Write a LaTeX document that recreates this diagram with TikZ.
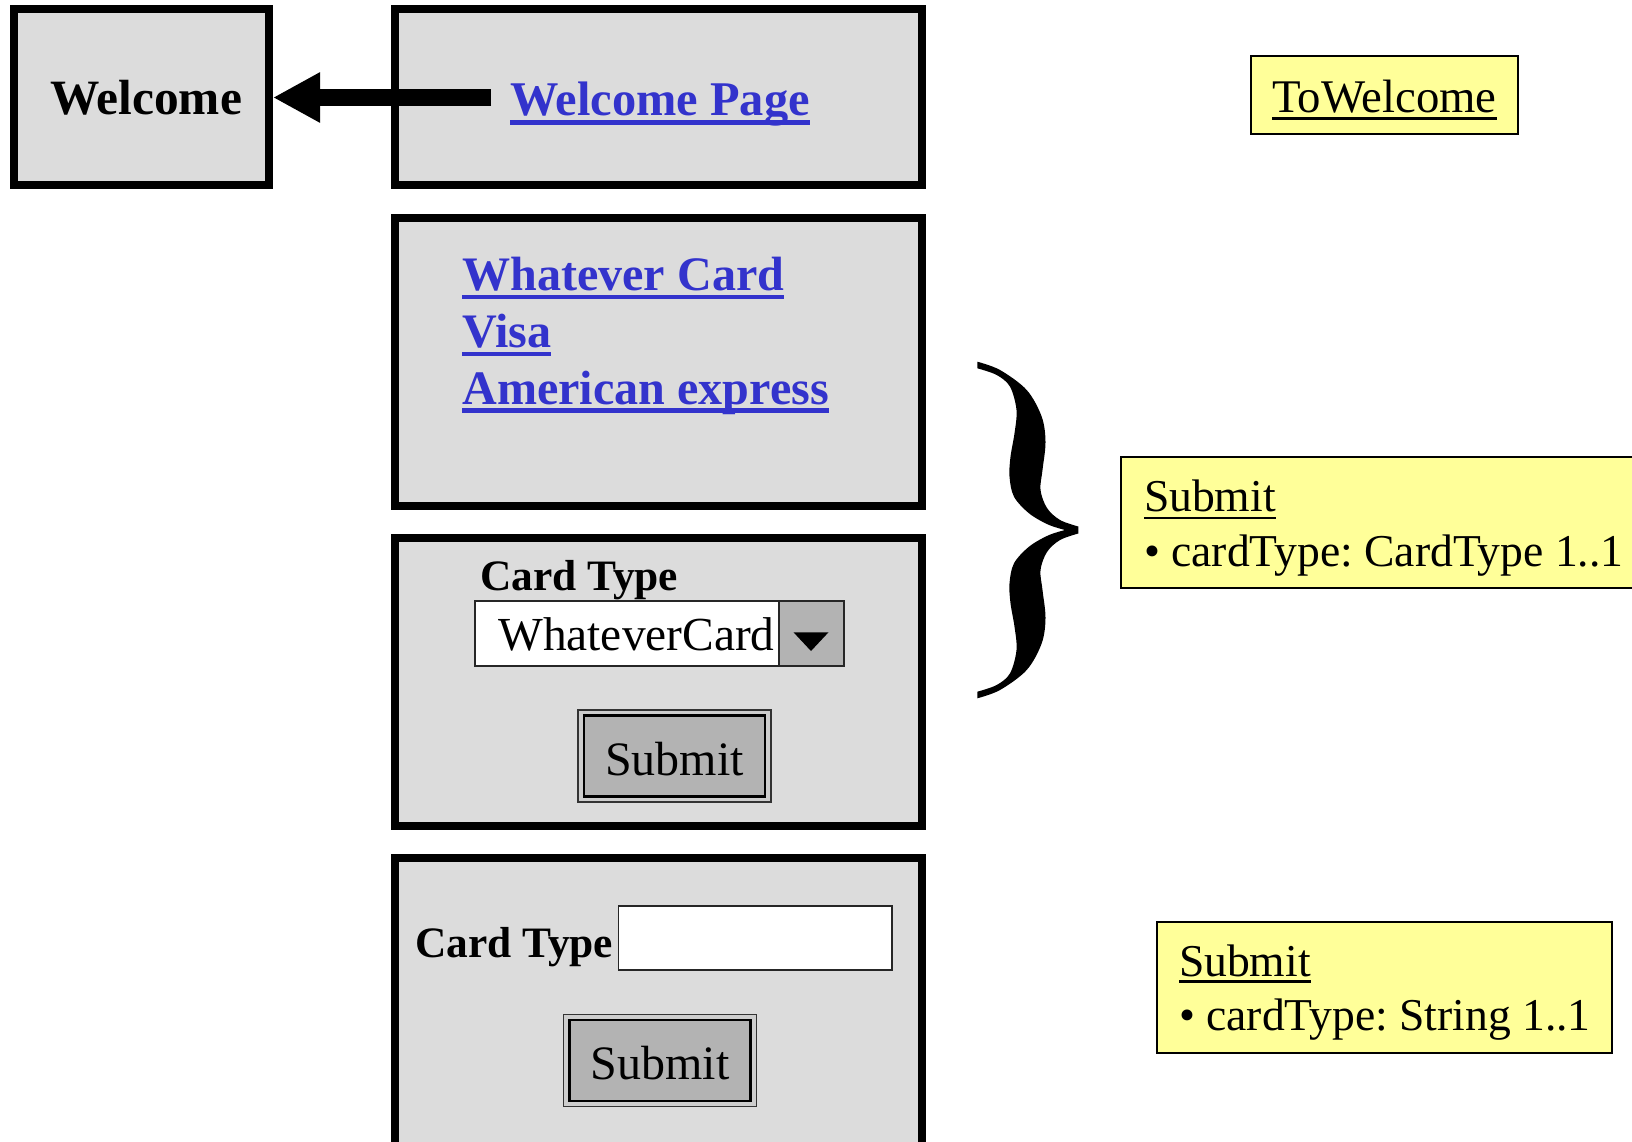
\documentclass[tikz,border=0pt]{standalone}
\usepackage{fontspec}
\setmainfont{Liberation Serif}
\usetikzlibrary{arrows.meta}
\frenchspacing

\definecolor{panelgray}{RGB}{220,220,220}
\definecolor{btngray}{RGB}{179,179,179}
\definecolor{gapgray}{RGB}{205,205,205}
\definecolor{linkblue}{RGB}{51,51,204}
\definecolor{notefill}{RGB}{255,255,153}

\newcommand{\linkfont}{\fontsize{48.4}{56}\selectfont\bfseries}
\newcommand{\cardlinkfont}{\fontsize{48.1}{56}\selectfont\bfseries}
\newcommand{\titlefont}{\fontsize{49.4}{56}\selectfont\bfseries}
\newcommand{\fieldlabelfont}{\fontsize{43.4}{50}\selectfont\bfseries}
\newcommand{\uifont}{\fontsize{47.4}{54}\selectfont}
\newcommand{\btnfont}{\fontsize{48}{55}\selectfont}
\newcommand{\notefont}{\fontsize{45.6}{54}\selectfont}

\begin{document}
\begin{tikzpicture}[x=1pt,y=-1pt,
  panel/.style={draw=black, line width=8pt, fill=panelgray, inner sep=0pt},
  txt/.style={inner sep=0pt, outer sep=0pt, anchor=base west},
  linktxt/.style={txt, text=linkblue, font=\linkfont},
  linkline/.style={draw=linkblue, line width=4.3pt},
  noteline/.style={draw=black, line width=2.8pt},
  notebox/.style={draw=black, line width=2pt, fill=notefill, inner sep=0pt},
  fieldbox/.style={draw=black!85, line width=1.6pt, fill=white, inner sep=0pt},
  ddbutton/.style={draw=black!85, line width=1.6pt, fill=btngray, inner sep=0pt},
  btnouter/.style={draw=black!80, line width=1.3pt, fill=gapgray, inner sep=0pt,
    minimum width=193pt, minimum height=92pt},
  btninner/.style={draw=black, line width=2.6pt, fill=btngray, inner sep=0pt,
    minimum width=181pt, minimum height=81pt, font=\btnfont,
    text height=38pt, text depth=0pt},
  bigarrow/.style={line width=17pt, -{Triangle[length=47pt, width=47pt]}}
]
% page
\path[use as bounding box, fill=white] (0,0) rectangle (1632,1142);
\clip (0,0) rectangle (1632,1142);

% ---------- page panels ----------
\node[panel, minimum width=255pt, minimum height=176pt, font=\titlefont,
  text width=183pt, align=left, inner xsep=0pt]
  (welcome) at (141.5,97.5) {Welcome};
\node[panel, minimum width=527pt, minimum height=176pt] (wpage) at (658.5,97.5) {};
\node[panel, minimum width=527pt, minimum height=288pt] (cards) at (658.5,361.5) {};
\node[panel, minimum width=527pt, minimum height=287.5pt] (ddform) at (658.5,681.75) {};
\node[panel, minimum width=527pt, minimum height=310pt] (txtform) at (658.5,1013) {};

% link back to the welcome page
\node[linktxt] (wplink) at (510,115.5) {Welcome Page};
\draw[linkline] ([yshift=-7pt]wplink.base west) -- ([yshift=-7pt]wplink.base east);
\coordinate (arrowtail) at (491,97.5);
\draw[bigarrow] (arrowtail) -- (welcome.east);

% card links
\node[linktxt, font=\cardlinkfont] (lkwhatever) at (462.3,290.7) {Whatever Card};
\node[linktxt, font=\cardlinkfont] (lkvisa) at (462.3,347.3) {Visa};
\node[linktxt, font=\cardlinkfont] (lkamex) at (462.3,404) {American express};
\foreach \n in {lkwhatever,lkvisa,lkamex}
  \draw[linkline] ([yshift=-6.5pt]\n.base west) -- ([yshift=-6.5pt]\n.base east);

% form with a drop-down list
\node[txt, font=\fieldlabelfont] (ddlabel) at (480,590) {Card Type};
\node[fieldbox, minimum width=304.3pt, minimum height=65pt] (ddfield) at (626.85,633.5) {};
\node[ddbutton, minimum width=65pt, minimum height=65pt] (ddbtn) at (811.5,633.5) {};
\fill[black] ([xshift=-18pt,yshift=1.2pt]ddbtn.center) -- ++(35,0) -- ++(-17.5,18.7) -- cycle;
\node[txt, font=\uifont] (ddvalue) at (498.3,650) {WhateverCard};
\node[btnouter] (btnA) at (674.5,756) {};
\node[btninner] (btnAin) at (btnA.center) {Submit};

% form with a text field
\node[txt, font=\fieldlabelfont] (txlabel) at (415,957) {Card Type};
\node[fieldbox, minimum width=273.4pt, minimum height=64.3pt] (txfield) at (755.3,937.85) {};
\node[btnouter] (btnB) at (660,1060.3) {};
\node[btninner] (btnBin) at (btnB.center) {Submit};

% ---------- brace grouping the two card forms ----------
\fill[black]
  plot[smooth, tension=0.55] coordinates {(977.3,361.7) (1000,370) (1026.7,390)
    (1041.7,416.7) (1045.5,442) (1042.5,470) (1040.5,490) (1047,508)
    (1060,520) (1078.3,526.5)}
  -- (1078.3,533.5)
  -- plot[smooth, tension=0.55] coordinates {(1078.3,533.5) (1060,540) (1047,552)
    (1040.5,570) (1042.5,590) (1045.5,618) (1041.7,643.3) (1026.7,670)
    (1000,690) (977.3,698.3)}
  -- (977.3,691.7)
  -- plot[smooth, tension=0.55] coordinates {(977.3,691.7) (996.7,685) (1010,673.3)
    (1016.5,650) (1014.5,626.7) (1010.5,603.3) (1009.5,583.3) (1014,563.3)
    (1029,546.7) (1048,535.5) (1065,530)}
  -- plot[smooth, tension=0.55] coordinates {(1065,530) (1048,524.5) (1029,513.3)
    (1014,496.7) (1009.5,476.7) (1010.5,456.7) (1014.5,433.3) (1016.5,410)
    (1010,386.7) (996.7,375) (977.3,368.3)}
  -- cycle;

% ---------- action notes ----------
\node[notebox, minimum width=267.6pt, minimum height=78.3pt] (notewelcome) at (1384.5,95.15) {};
\node[txt, font=\fontsize{46.8}{54}\selectfont] (ntwelcome) at (1272.3,112.7) {ToWelcome};
\draw[noteline] ([yshift=-5.8pt]ntwelcome.base west) -- ([yshift=-5.8pt]ntwelcome.base east);

\node[notebox, minimum width=529pt, minimum height=131.6pt] (notesel) at (1385.5,522.5) {};
\node[txt, font=\notefont] (ntseltitle) at (1144,511.7) {Submit};
\draw[noteline] ([yshift=-6.3pt]ntseltitle.base west) -- ([yshift=-6.3pt]ntseltitle.base east);
\node[txt, font=\notefont] (ntselattr) at (1144,566.7) {• cardType: CardType 1..1};

\node[notebox, minimum width=455pt, minimum height=131.6pt] (notestr) at (1384.2,987.5) {};
\node[txt, font=\notefont] (ntstrtitle) at (1179,976) {Submit};
\draw[noteline] ([yshift=-5.8pt]ntstrtitle.base west) -- ([yshift=-5.8pt]ntstrtitle.base east);
\node[txt, font=\notefont] (ntstrattr) at (1179,1030) {• cardType: String 1..1};
\end{tikzpicture}
\end{document}
